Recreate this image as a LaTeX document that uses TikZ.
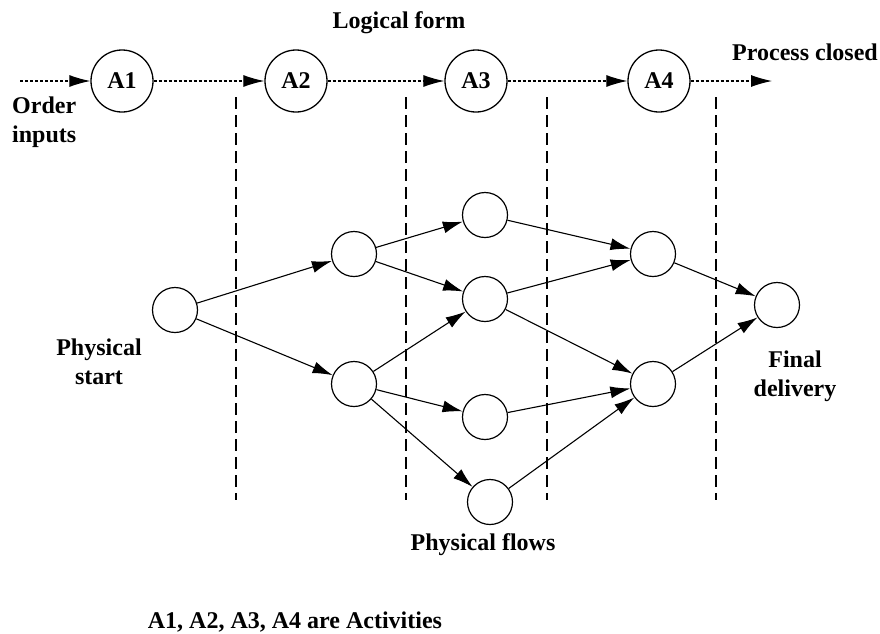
\documentclass[tikz,border=0pt]{standalone}
\usepackage{fontspec}
\setmainfont{Liberation Serif}
\usetikzlibrary{arrows.meta}
\begin{document}
\begin{tikzpicture}[x=1pt,y=-1pt,
  every node/.style={font=\fontsize{24}{29}\selectfont\bfseries},
  activity/.style={circle,draw,line width=1.3pt,minimum size=62pt,inner sep=0pt},
  place/.style={circle,draw,line width=1.2pt,minimum size=45pt,inner sep=0pt},
  logical/.style={line width=1.1pt,dash pattern=on 3pt off 2pt,-{Latex[length=21pt,width=12pt]}},
  flow/.style={line width=1.1pt,-{Latex[length=20pt,width=12pt]}},
  stage/.style={line width=1.1pt,dash pattern=on 12pt off 6pt},
  label/.style={align=center,inner sep=0pt}]
\useasboundingbox (0,0) rectangle (880,633);

% logical form: the four activities
\node[activity] (a1) at (122,81) {A1};
\node[activity] (a2) at (296,81) {A2};
\node[activity] (a3) at (476,81) {A3};
\node[activity] (a4) at (659,81) {A4};
\coordinate (in)  at (20,81);
\coordinate (out) at (772,81);
\draw[logical] (in) -- (a1);
\draw[logical] (a1) -- (a2);
\draw[logical] (a2) -- (a3);
\draw[logical] (a3) -- (a4);
\draw[logical] (a4) -- (out);

% stage boundaries
\foreach \x/\n in {236/s1,406/s2,547/s3,716/s4}{
  \coordinate (\n t) at (\x,97);
  \coordinate (\n b) at (\x,500);
  \draw[stage] (\n t) -- (\n b);
}

% physical flows
\node[place] (s)  at (175,310) {};
\node[place] (b1) at (354,254) {};
\node[place] (b2) at (354,384) {};
\node[place] (c1) at (485,215) {};
\node[place] (c2) at (485,299) {};
\node[place] (c3) at (485,417) {};
\node[place] (c4) at (490,502) {};
\node[place] (d1) at (653,254) {};
\node[place] (d2) at (653,384) {};
\node[place] (e)  at (777,305) {};

\draw[flow] (s) -- (b1);
\draw[flow] (s) -- (b2);
\draw[flow] (b1) -- (c1);
\draw[flow] (b1) -- (c2);
\draw[flow] (b2) -- (c2);
\draw[flow] (b2) -- (c3);
\draw[flow] (b2) -- (c4);
\draw[flow] (c1) -- (d1);
\draw[flow] (c2) -- (d1);
\draw[flow] (c2) -- (d2);
\draw[flow] (c3) -- (d2);
\draw[flow] (c4) -- (d2);
\draw[flow] (d1) -- (e);
\draw[flow] (d2) -- (e);

% labels
\node[label] (tlog)  at (399,23) {Logical form};
\node[label] (tproc) at (805,52) {Process closed};
\node[label,align=left,anchor=west] (tord) at (12,122) {Order\\inputs};
\node[label] (tstart) at (99,362) {Physical\\start};
\node[label] (tfinal) at (795,376) {Final\\delivery};
\node[label] (tflows) at (483,545) {Physical flows};
\node[label] (tnote) at (295,622) {A1, A2, A3, A4 are Activities};
\end{tikzpicture}
\end{document}
